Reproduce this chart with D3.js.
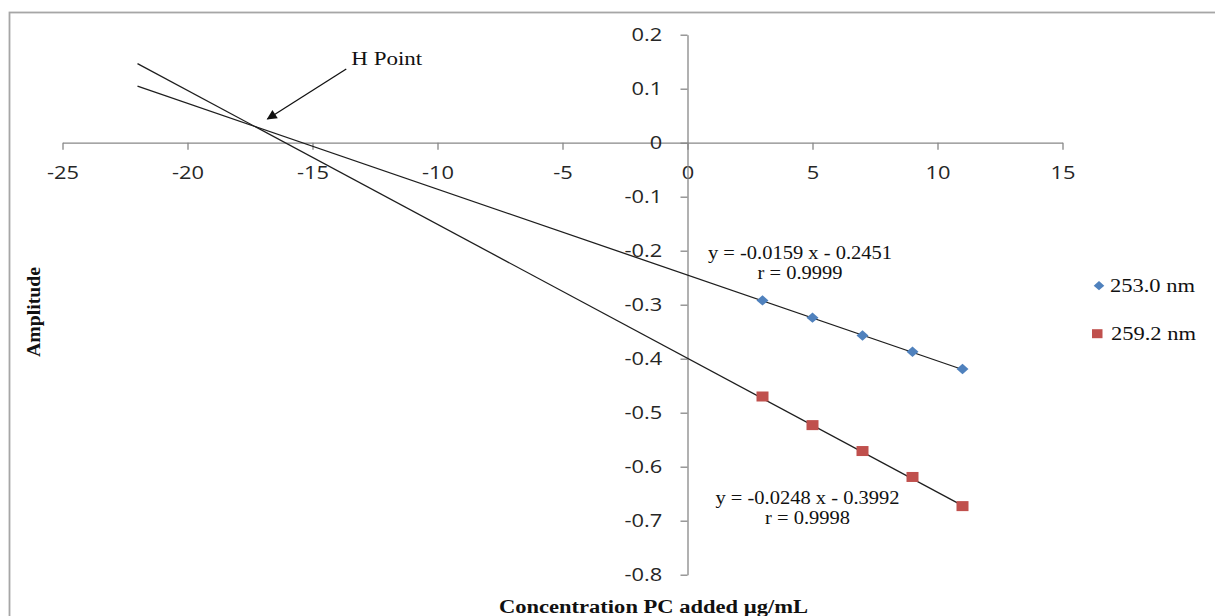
<!DOCTYPE html>
<html>
<head>
<meta charset="utf-8">
<script src="https://cdn.jsdelivr.net/npm/d3@7"></script>
<style>
  body { margin: 0; background: #fff; }
  .tick text { font-family: "Open Sans", sans-serif; font-size: 19px; fill: #262626; }
  .serif { font-family: "Liberation Serif", "Times New Roman", serif; fill: #111; }
</style>
</head>
<body>
<div id="wrapper"></div>
<script>
// data
const concentrations = [3, 5, 7, 9, 11];
const amp253 = [-0.292, -0.324, -0.357, -0.387, -0.419];
const amp259 = [-0.470, -0.523, -0.571, -0.619, -0.673];
const seriesNames = ['253.0 nm', '259.2 nm'];
const slopes = [-0.0159, -0.0248];
const intercepts = [-0.2451, -0.3992];
const rValues = ['0.9999', '0.9998'];
const trendExtent = [-22, 11];
const xTicks = [-25, -20, -15, -10, -5, 0, 5, 10, 15];
const yTicks = [-0.8, -0.7, -0.6, -0.5, -0.4, -0.3, -0.2, -0.1, 0, 0.1, 0.2];

function drawChart() {
  const width = 1215, height = 616;
  const blue = '#4F81BD', red = '#C0504D';

  const svg = d3.select('#wrapper')
    .append('svg')
    .attr('width', width)
    .attr('height', height);

  // frame (runs off the right and bottom edge)
  svg.append('rect')
    .attr('x', 9.5).attr('y', 12.5)
    .attr('width', 1400).attr('height', 800)
    .attr('fill', 'none')
    .attr('stroke', '#a6a6a6')
    .attr('stroke-width', 1.8);

  // scales
  const xScale = d3.scaleLinear().domain([-25, 15]).range([62.5, 1062.5]);
  const yScale = d3.scaleLinear().domain([-0.8, 0.2]).range([574.7, 34.7]);

  // axes
  const xAxis = svg.append('g')
    .attr('transform', `translate(0,${yScale(0)})`)
    .call(d3.axisBottom(xScale)
      .tickValues(xTicks)
      .tickFormat(d => String(d))
      .tickSize(7)
      .tickSizeOuter(0)
      .tickPadding(16));
  xAxis.selectAll('.tick text').attr('transform', 'scale(1.15,1)');

  const yAxis = svg.append('g')
    .attr('transform', `translate(${xScale(0)},0)`)
    .call(d3.axisLeft(yScale)
      .tickValues(yTicks)
      .tickFormat(d => Math.abs(d) < 1e-9 ? '0' : d.toFixed(1))
      .tickSize(7)
      .tickSizeOuter(0));
  yAxis.selectAll('.tick text')
    .attr('x', -22)
    .attr('transform', 'scale(1.15,1)');

  svg.selectAll('.domain, .tick line')
    .attr('stroke', '#878787')
    .attr('stroke-width', 1.3);

  // trend lines
  const line = d3.line()
    .x(d => xScale(d[0]))
    .y(d => yScale(d[1]));
  slopes.forEach((m, i) => {
    svg.append('path')
      .attr('d', line(trendExtent.map(x => [x, m * x + intercepts[i]])))
      .attr('fill', 'none')
      .attr('stroke', '#1e1e1e')
      .attr('stroke-width', 1.3);
  });

  // markers
  const diamond = s => `M0,${-s}L${s * 1.15},0L0,${s}L${-s * 1.15},0Z`;
  svg.append('g').selectAll('path')
    .data(concentrations)
    .join('path')
    .attr('transform', (d, i) => `translate(${xScale(d)},${yScale(amp253[i])})`)
    .attr('d', diamond(5.2))
    .attr('fill', blue);

  svg.append('g').selectAll('rect')
    .data(concentrations)
    .join('rect')
    .attr('x', d => xScale(d) - 6)
    .attr('y', (d, i) => yScale(amp259[i]) - 5)
    .attr('width', 12)
    .attr('height', 10)
    .attr('fill', red);

  // equations
  const eqPos = [[4.5, -0.2154], [4.8, -0.6689]];
  eqPos.forEach((p, i) => {
    const cx = xScale(p[0]), by = yScale(p[1]);
    const eq = `y = ${slopes[i].toFixed(4)} x - ${Math.abs(intercepts[i]).toFixed(4)}`;
    svg.append('text').attr('class', 'serif')
      .attr('x', cx).attr('y', by)
      .attr('text-anchor', 'middle')
      .style('font-size', '18px')
      .attr('textLength', 184).attr('lengthAdjust', 'spacingAndGlyphs')
      .text(eq);
    svg.append('text').attr('class', 'serif')
      .attr('x', cx).attr('y', by + 20)
      .attr('text-anchor', 'middle')
      .style('font-size', '18px')
      .attr('textLength', 85).attr('lengthAdjust', 'spacingAndGlyphs')
      .text(`r = ${rValues[i]}`);
  });

  // H point annotation
  const defs = svg.append('defs');
  defs.append('marker')
    .attr('id', 'arrow')
    .attr('viewBox', '0 0 10 10')
    .attr('refX', 9).attr('refY', 5)
    .attr('markerWidth', 13).attr('markerHeight', 10)
    .attr('markerUnits', 'userSpaceOnUse')
    .attr('orient', 'auto')
    .append('path')
    .attr('d', 'M0,0L10,5L0,10Z')
    .attr('fill', '#111');
  svg.append('line')
    .attr('x1', xScale(-13.65)).attr('y1', yScale(0.1365))
    .attr('x2', xScale(-16.8)).attr('y2', yScale(0.044))
    .attr('stroke', '#111')
    .attr('stroke-width', 1.3)
    .attr('marker-end', 'url(#arrow)');
  svg.append('text').attr('class', 'serif')
    .attr('x', xScale(-13.45)).attr('y', yScale(0.1435))
    .style('font-size', '18.5px')
    .attr('textLength', 71).attr('lengthAdjust', 'spacingAndGlyphs')
    .text('H Point');

  // axis titles
  svg.append('text').attr('class', 'serif')
    .attr('transform', 'translate(40,312) rotate(-90)')
    .attr('text-anchor', 'middle')
    .style('font-size', '18px')
    .style('font-weight', 'bold')
    .attr('textLength', 90).attr('lengthAdjust', 'spacingAndGlyphs')
    .text('Amplitude');
  svg.append('text').attr('class', 'serif')
    .attr('x', 653.5).attr('y', 613)
    .attr('text-anchor', 'middle')
    .style('font-size', '18px')
    .style('font-weight', 'bold')
    .attr('textLength', 309).attr('lengthAdjust', 'spacingAndGlyphs')
    .text('Concentration PC added µg/mL');

  // legend
  const legend = svg.append('g');
  const legendY = [285.7, 333.7];
  legend.append('path')
    .attr('transform', `translate(1099,${legendY[0]})`)
    .attr('d', diamond(4.6))
    .attr('fill', blue);
  legend.append('rect')
    .attr('x', 1092).attr('y', legendY[1] - 4.5)
    .attr('width', 10.5).attr('height', 9)
    .attr('fill', red);
  legend.selectAll('text')
    .data(seriesNames)
    .join('text')
    .attr('class', 'serif')
    .attr('x', (d, i) => i === 0 ? 1110 : 1111)
    .attr('y', (d, i) => legendY[i] + 6)
    .style('font-size', '18px')
    .attr('textLength', 85).attr('lengthAdjust', 'spacingAndGlyphs')
    .text(d => d);
}

drawChart();
</script>
</body>
</html>
